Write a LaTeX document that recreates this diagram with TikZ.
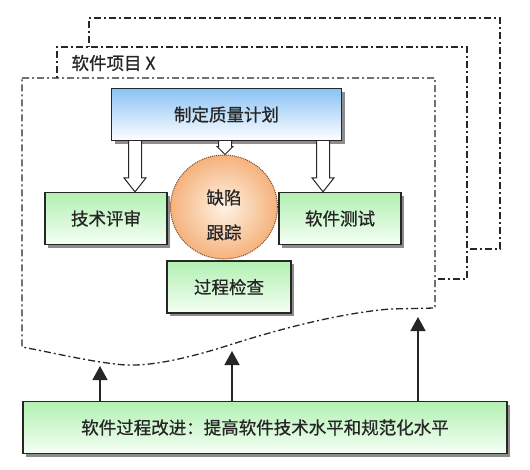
\documentclass[tikz,border=0pt]{standalone}
\usepackage{fontspec}
\newfontfamily\cjk[FakeBold=0.8]{Noto Sans CJK SC}
\usetikzlibrary{positioning,arrows.meta,calc,shapes.geometric,shadows}
\definecolor{planblue}{RGB}{138,194,244}
\definecolor{boxgreen}{RGB}{178,240,178}
\definecolor{ballorange}{RGB}{245,178,124}
\definecolor{ballrim}{RGB}{120,70,40}

\begin{document}
\begin{tikzpicture}[
  x=1pt,y=-1pt,
  >={Triangle[length=14pt,width=15pt]},
  every node/.style={font=\cjk\fontsize{17.5}{20}\selectfont,text=black!85},
  frame/.style={line width=1.3pt,black!85,
                dash pattern=on 7pt off 3pt on 2pt off 3pt},
  box/.style={draw=black!85,line width=1.3pt,inner sep=0pt,
              minimum height=52pt,
              drop shadow={shadow xshift=3pt,shadow yshift=-3pt,
                           fill=black!45,opacity=1}},
  planbox/.style={box,top color=planblue,bottom color=white},
  greenbox/.style={box,top color=boxgreen,bottom color=white!96!green,
                   minimum width=122pt},
  hollow/.style 2 args={draw=black!85,line width=1pt,fill=white,
    to path={let \p1=(\tikztostart),\p2=(\tikztotarget) in
      (\x1-6.5pt,\y1) -- (\x1-6.5pt,\y2+#1) -- (\x1-#2,\y2+#1) -- (\x2,\y2)
      -- (\x1+#2,\y2+#1) -- (\x1+6.5pt,\y2+#1) -- (\x1+6.5pt,\y1)}},
  uparrow/.style={->,line width=1.5pt,black!85}
]
\useasboundingbox (0,0) rectangle (530,469);
% stacked project frames
\draw[frame] (470,249) -- (500,249) -- (500,18) -- (89,18) -- (89,47);
\draw[frame] (438,279) -- (467,279) -- (467,47) -- (57,47) -- (57,78);
\draw[frame] (22,78) -- (435,78) -- (435,308) -- (390,309)
  .. controls (330,314) and (260,335) .. (220,348)
  .. controls (180,360) and (150,366) .. (125,365)
  .. controls (90,362) and (50,352) .. (22,347) -- cycle;
\node[anchor=west] (project) at (68,63) {软件项目 X};
% activities
\node[planbox,minimum width=230pt] (plan) at (226.5,114.5) {制定质量计划};
\node[greenbox] (review) at (106,218.5) {技术评审};
\node[greenbox] (test) at (340,218.5) {软件测试};
\node[greenbox,minimum width=124pt] (check) at (229,287) {过程检查};
\node[ellipse,draw=ballrim,densely dotted,line width=1pt,
      minimum width=107pt,minimum height=104pt,
      inner color=white!90!orange,outer color=ballorange,
      label={[align=center,yshift=-8pt,
              font=\cjk\fontsize{17.5}{35}\selectfont]center:缺陷\\跟踪}]
      (defect) at (224,207) {};
\node[box,top color=boxgreen,bottom color=white!96!green,
      minimum width=484pt] (improve) at (265,427.5)
      {软件过程改进：提高软件技术水平和规范化水平};
% plan feeds the activities
\coordinate (hx1) at (135,0);
\coordinate (hx2) at (225,0);
\coordinate (hx3) at (323,0);
\draw[hollow={14pt}{11pt}] (plan.south -| hx1) to (review.north -| hx1);
\draw[hollow={8pt}{8pt}] (plan.south -| hx2) to (defect.north -| hx2);
\draw[hollow={14pt}{11pt}] (plan.south -| hx3) to (test.north -| hx3);
% improvement lifts the project
\coordinate (w1) at (100,366);
\coordinate (w2) at (232,351);
\coordinate (w3) at (418,317);
\draw[uparrow] (improve.north -| w1) -- (w1);
\draw[uparrow] (improve.north -| w2) -- (w2);
\draw[uparrow] (improve.north -| w3) -- (w3);
\end{tikzpicture}
\end{document}
